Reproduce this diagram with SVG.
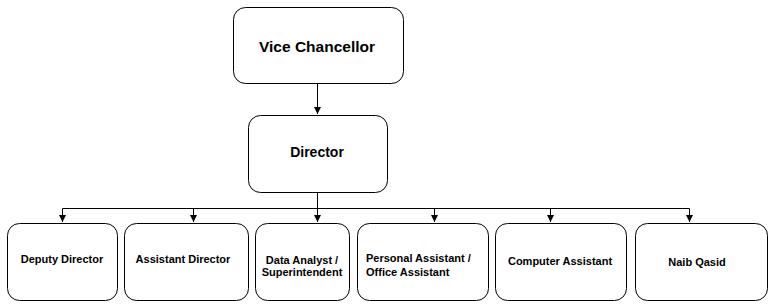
<svg xmlns="http://www.w3.org/2000/svg" width="775" height="307" viewBox="0 0 775 307">
<defs>
<marker id="arr" markerWidth="8" markerHeight="8" refX="7" refY="4" orient="auto" markerUnits="userSpaceOnUse">
<path d="M0,0.5 L7,4 L0,7.5 z" fill="#000"/>
</marker>
<style>
.box{fill:#fff;stroke:#000;stroke-width:1}
.t{font-family:"Liberation Sans",Arial,sans-serif;font-weight:bold;fill:#000}
.s{font-size:11px}
.c{stroke:#000;stroke-width:1;fill:none}
</style>
</defs>
<rect width="775" height="307" fill="#fff"/>
<g id="connectors">
<path class="c" d="M317.5,83 V114" marker-end="url(#arr)"/>
<path class="c" d="M317.5,192 V208.5 M62.5,208.5 H689.5"/>
<path class="c" d="M62.5,208.5 V222" marker-end="url(#arr)"/>
<path class="c" d="M193.5,208.5 V222" marker-end="url(#arr)"/>
<path class="c" d="M317.5,208.5 V222" marker-end="url(#arr)"/>
<path class="c" d="M434.5,208.5 V222" marker-end="url(#arr)"/>
<path class="c" d="M550.5,208.5 V222" marker-end="url(#arr)"/>
<path class="c" d="M689.5,208.5 V222" marker-end="url(#arr)"/>
</g>
<g id="vice-chancellor">
<rect class="box" x="233.5" y="7.5" width="170" height="76" rx="12"/>
<text class="t" x="317" y="52" font-size="15.5" text-anchor="middle">Vice Chancellor</text>
</g>
<g id="director">
<rect class="box" x="248.5" y="115.5" width="139" height="77" rx="12"/>
<text class="t" x="317" y="157" font-size="14" text-anchor="middle">Director</text>
</g>
<g id="deputy-director">
<rect class="box" x="7.5" y="223.5" width="110" height="77" rx="12"/>
<text class="t s" x="62" y="263" text-anchor="middle">Deputy Director</text>
</g>
<g id="assistant-director">
<rect class="box" x="124.5" y="223.5" width="124" height="77" rx="12"/>
<text class="t s" x="183" y="263" text-anchor="middle">Assistant Director</text>
</g>
<g id="data-analyst">
<rect class="box" x="255.5" y="223.5" width="94" height="77" rx="12"/>
<text class="t s" x="302" y="264" text-anchor="middle">Data Analyst /</text>
<text class="t s" x="302" y="276" text-anchor="middle">Superintendent</text>
</g>
<g id="personal-assistant">
<rect class="box" x="357.5" y="223.5" width="131" height="77" rx="12"/>
<text class="t s" x="366" y="262">Personal Assistant /</text>
<text class="t s" x="366" y="276">Office Assistant</text>
</g>
<g id="computer-assistant">
<rect class="box" x="495.5" y="223.5" width="131" height="77" rx="12"/>
<text class="t s" x="560" y="265" text-anchor="middle">Computer Assistant</text>
</g>
<g id="naib-qasid">
<rect class="box" x="635.5" y="223.5" width="132" height="77" rx="12"/>
<text class="t s" x="697" y="266" text-anchor="middle">Naib Qasid</text>
</g>
</svg>
